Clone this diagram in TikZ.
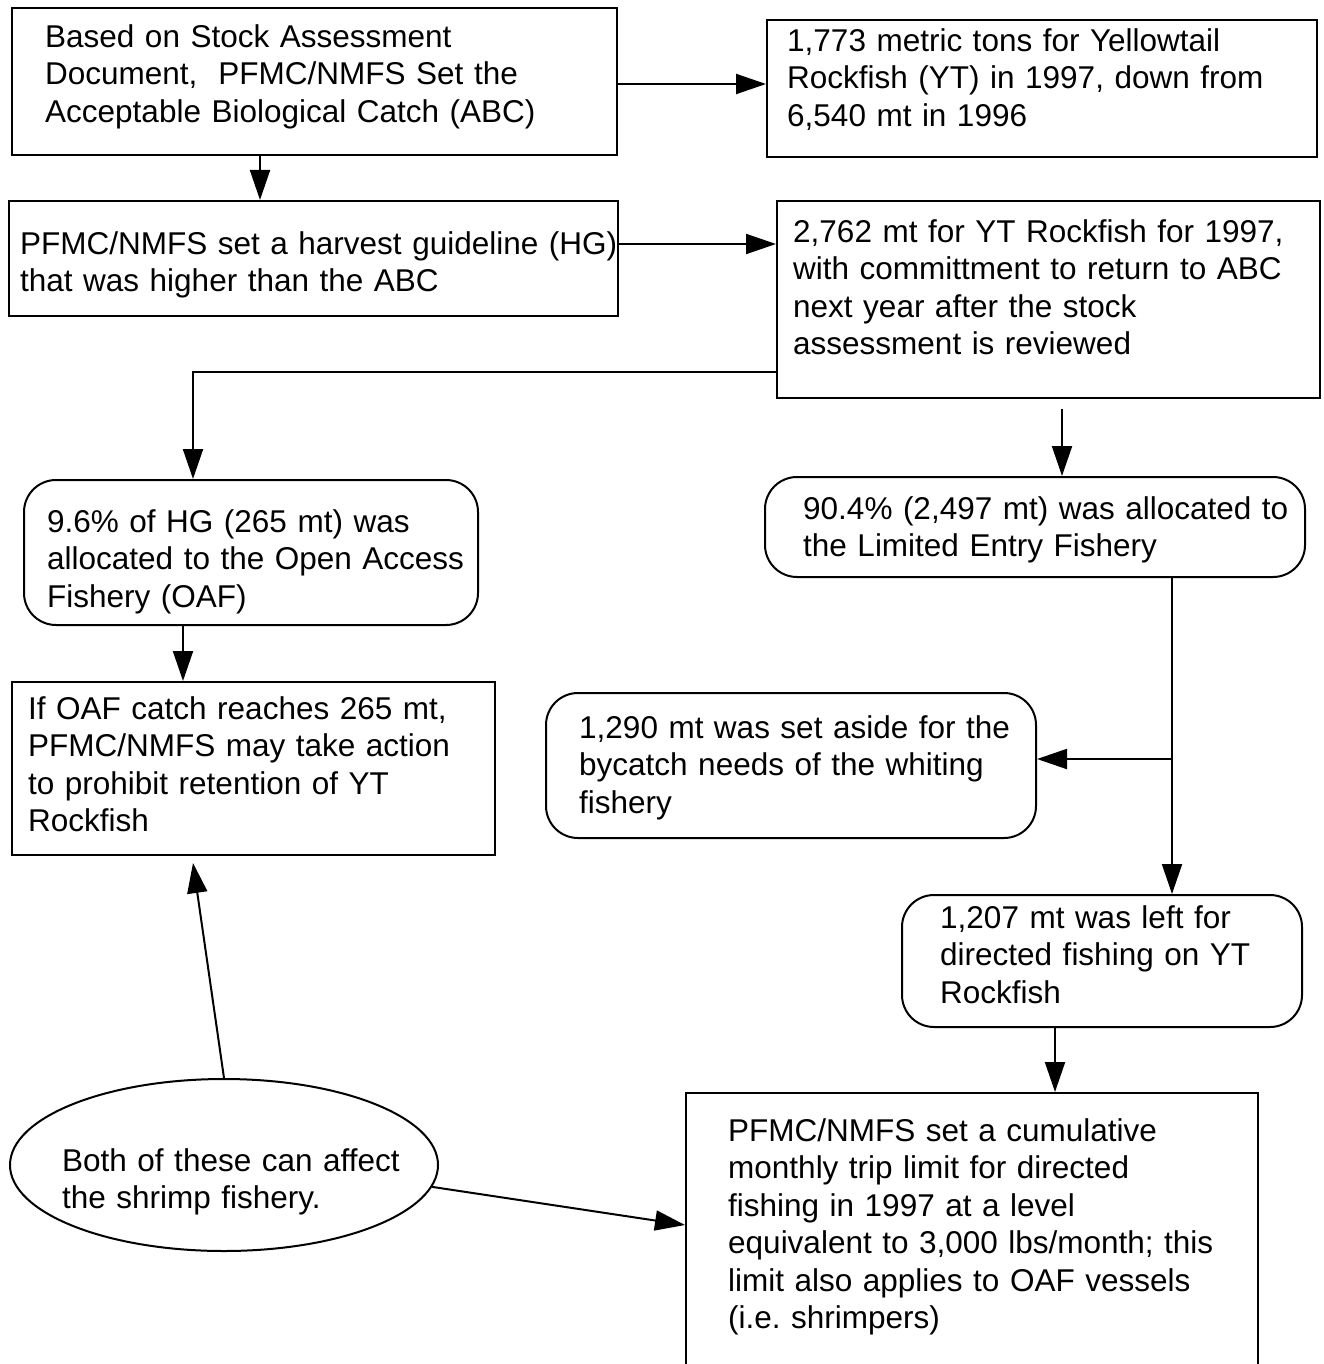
\documentclass[tikz,border=0pt]{standalone}
\usepackage{fontspec}
\setmainfont{Liberation Sans}
\usetikzlibrary{arrows.meta,shapes.geometric,fit,calc}
\begin{document}
\frenchspacing
\begin{tikzpicture}[x=1pt,y=1pt,
  box/.style={draw, line width=2pt, inner sep=0pt},
  rbox/.style={box, rounded corners=32pt},
  txt/.style={anchor=north west, inner sep=0pt, align=left, text width=620pt,
    font=\fontsize{31.5}{37.5}\selectfont\frenchspacing, execute at begin node=\strut},
  arr/.style={line width=2pt, -{Triangle[length=30pt,width=20pt]}}]
\useasboundingbox (0,0) rectangle (1323,-1364);
\clip (0,0) rectangle (1323,-1364);
% boxes
\node[box, fit={(12,-8)(617,-155)}] (b1) {};
\node[box, fit={(767,-20)(1317,-157)}] (b2) {};
\node[box, fit={(9,-201)(618,-316)}] (b3) {};
\node[box, fit={(777,-201)(1320,-398)}] (b4) {};
\node[rbox, fit={(24,-480)(478,-625)}] (b5) {};
\node[rbox, fit={(765,-477)(1305,-577)}] (b6) {};
\node[box, fit={(12,-682)(495,-855)}] (b7) {};
\node[rbox, fit={(546,-693)(1036,-838)}] (b8) {};
\node[rbox, fit={(902,-895)(1302,-1027)}] (b9) {};
\node[box, fit={(686,-1093)(1258,-1420)}] (b10) {};
\node[draw, line width=2pt, ellipse, inner sep=0pt, minimum width=428pt, minimum height=172pt] (e) at (224,-1165) {};
% texts
\node[txt] (t1) at (45,-21) {Based on Stock Assessment\\Document, \ PFMC/NMFS Set the\\Acceptable Biological Catch (ABC)};
\node[txt] (t2) at (787,-25) {1,773 metric tons for Yellowtail\\Rockfish (YT) in 1997, down from\\6,540 mt in 1996};
\node[txt] (t3) at (20,-228) {PFMC/NMFS set a harvest guideline (HG)\\that was higher than the ABC};
\node[txt] (t4) at (793,-216) {2,762 mt for YT Rockfish for 1997,\\with committment to return to ABC\\next year after the stock\\assessment is reviewed};
\node[txt] (t5) at (47,-506) {9.6\% of HG (265 mt) was\\allocated to the Open Access\\Fishery (OAF)};
\node[txt] (t6) at (803,-493) {90.4\% (2,497 mt) was allocated to\\the Limited Entry Fishery};
\node[txt] (t7) at (28,-693) {If OAF catch reaches 265 mt,\\PFMC/NMFS may take action\\to prohibit retention of YT\\Rockfish};
\node[txt] (t8) at (579,-712) {1,290 mt was set aside for the\\bycatch needs of the whiting\\fishery};
\node[txt] (t9) at (940,-902) {1,207 mt was left for\\directed fishing on YT\\Rockfish};
\node[txt] (t10) at (728,-1115) {PFMC/NMFS set a cumulative\\monthly trip limit for directed\\fishing in 1997 at a level\\equivalent to 3,000 lbs/month; this\\limit also applies to OAF vessels\\(i.e. shrimpers)};
\node[txt] (t11) at (62,-1145) {Both of these can affect\\the shrimp fishery.};
% connectors
\coordinate (j) at (1172,-759);
\draw[arr] (b1.east |- 0,-84) -- (b2.west |- 0,-84);
\draw[arr] (b1.south -| 260,0) -- (b3.north -| 260,0);
\draw[arr] (b3.east |- 0,-244) -- (b4.west |- 0,-244);
\draw[arr] (b4.west |- 0,-372) -| (b5.north -| 193,0);
\draw[arr] ($(b4.south -| 1062,0)+(0,-10)$) -- (b6.north -| 1062,0);
\draw[arr] (b5.south -| 183,0) -- (b7.north -| 183,0);
\draw[arr] (b6.south -| j) -- (b9.north -| j);
\draw[arr] (j) -- (b8.east |- j);
\draw[arr] (b9.south -| 1055,0) -- (b10.north -| 1055,0);
\draw[arr] (e.north) -- ($(b7.south -| 193,0)+(0,-7)$);
\draw[arr] (e.-6) -- (b10.west |- 0,-1225);
\end{tikzpicture}
\end{document}
